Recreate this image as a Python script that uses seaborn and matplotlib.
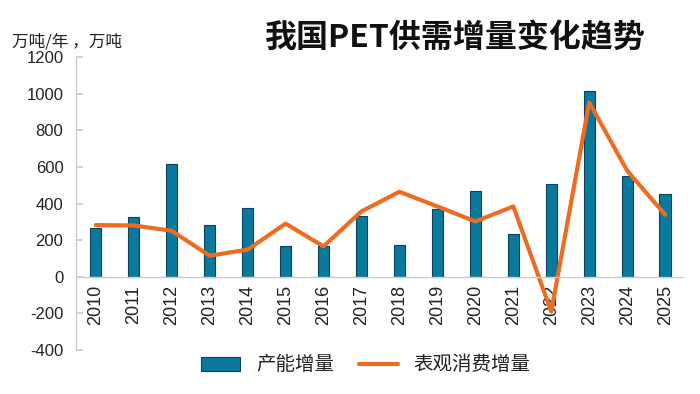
import matplotlib
matplotlib.use("Agg")
import matplotlib.pyplot as plt
import seaborn as sns
import pandas as pd
import numpy as np
from matplotlib.patches import Patch
from matplotlib.lines import Line2D

years = ["2010", "2011", "2012", "2013", "2014", "2015", "2016", "2017",
         "2018", "2019", "2020", "2021", "2022", "2023", "2024", "2025"]
capacity = [266, 328, 616, 284, 377, 168, 168, 333,
            173, 372, 468, 235, 506, 1016, 550, 450]
consumption = [282, 280, 251, 115, 148, 290, 166, 357,
               464, 384, 302, 384, -190, 952, 579, 339]
yticks = [-400, -200, 0, 200, 400, 600, 800, 1000, 1200]

sns.set_theme(style="white")
plt.rcParams['font.family'] = ['Noto Sans CJK SC', 'DejaVu Sans']

bar_color = "#0a7a9c"
line_color = "#ee6c22"
text_color = "#222222"
num_font = ['Liberation Sans', 'DejaVu Sans']

fig = plt.figure(figsize=(7.0, 3.94), dpi=100)
ax = fig.add_axes([76/700, 1 - 350/394, (683-76)/700, (350-57)/394])

df = pd.DataFrame({"year": years, "capacity": capacity, "consumption": consumption})
df["x"] = np.arange(len(years))

sns.barplot(data=df, x="year", y="capacity", color=bar_color, width=0.3,
            edgecolor="#0b3f5a", linewidth=0.8, saturation=1, ax=ax)
sns.lineplot(data=df, x="x", y="consumption", color=line_color, linewidth=3,
             ax=ax, sort=False)

for s in ["top", "right"]:
    ax.spines[s].set_visible(False)
ax.spines["left"].set_color("#c8ccd0")
ax.spines["left"].set_linewidth(1.0)
ax.spines["bottom"].set_position(("data", 0))
ax.spines["bottom"].set_color("#c8ccd0")
ax.spines["bottom"].set_linewidth(1.0)

ax.set_xlim(-0.52, 15.47)
ax.set_ylim(-400, 1200)
ax.set_yticks(yticks)
ax.set_yticklabels([str(v) for v in yticks], fontsize=12, color=text_color,
                   family=num_font)
ax.set_xticks(df["x"])
ax.set_xticklabels(years, rotation=90, fontsize=13, color=text_color,
                   family=num_font)
ax.set_xlabel("")
ax.set_ylabel("")
ax.tick_params(axis="y", direction="in", length=5, color="#c8ccd0", pad=9, left=True)
ax.tick_params(axis="x", length=0, pad=6)

fig.text(12/700, 1 - 42/394, "万吨/年 ，万吨", fontsize=12, color=text_color,
         va="center", ha="left")
fig.text(455/700, 1 - 38/394, "我国PET供需增量变化趋势", fontsize=23,
         fontweight="bold", color="#111111", va="center", ha="center")

handles = [Patch(facecolor=bar_color, edgecolor="#0b3f5a", linewidth=0.8),
           Line2D([0], [0], color=line_color, linewidth=3)]
fig.legend(handles, ["产能增量", "表观消费增量"], loc="center",
           bbox_to_anchor=(366/700, 1 - 365/394), ncol=2, frameon=False,
           fontsize=14, handlelength=2.0, handleheight=0.7, columnspacing=1.3,
           handletextpad=0.8, labelcolor=text_color)

fig.savefig("out.png", dpi=100, facecolor="white")
